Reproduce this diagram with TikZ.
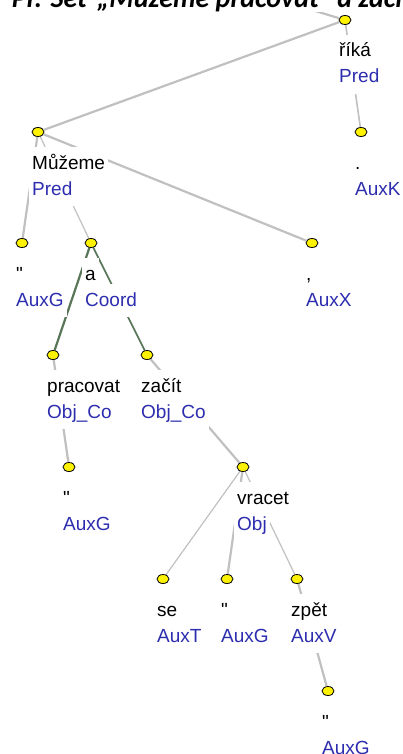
\documentclass[tikz,border=0pt]{standalone}
\usepackage{fontspec}
\newfontfamily\treefont[Ligatures=TeXOff]{Liberation Sans}
\newfontfamily\titlefont{Carlito}
\usetikzlibrary{shapes.geometric,backgrounds}
\definecolor{edgegray}{RGB}{192,192,192}
\definecolor{coordgreen}{RGB}{88,118,88}
\definecolor{funcblue}{RGB}{45,45,175}
\tikzset{
  treedot/.style={ellipse, draw=black, line width=0.8pt, fill=yellow,
    minimum width=12pt, minimum height=9pt, inner sep=0pt},
  wordlab/.style={anchor=base west, fill=white, inner sep=3pt,
    text height=19pt, text depth=8pt, font=\treefont\fontsize{19}{19}\selectfont},
  funclab/.style={wordlab, text=funcblue},
  dep/.style={draw=edgegray, line width=2.2pt},
  thindep/.style={draw=edgegray, line width=1.2pt},
  coorddep/.style={draw=coordgreen, line width=1.6pt},
}
\begin{document}
\begin{tikzpicture}[x=1pt, y=-1pt]
    \useasboundingbox (0,0) rectangle (403,754);
    \clip (0,0) rectangle (403,754);
    % slide title, cut off at the top
    \node[anchor=base west, inner sep=0pt, fill=white,
       font=\titlefont\bfseries\itshape\fontsize{28}{28}\selectfont]
       (title) at (97,8) {\llap{Př. Set\hspace{4pt} }„Můžeme pracovat“ a začít};
    \coordinate (up) at (279,0);
    % the dots of the tree
    \foreach \n/\x/\y in {rika/345/20, auxk/361/132, muzeme/38/132,
       qa/22/243, a/91/243, comma/312/243, pracovat/53/355, zacit/147/355,
       qb/69/467, vracet/243/467, se/163/579, qc/227/579, zpet/297/579,
       qd/328/691}
       \node[treedot] (\n) at (\x,\y) {};
    % word form and function under each dot
    \foreach \n/\w/\f in {rika/říká/Pred, auxk/./AuxK, muzeme/Můžeme/Pred,
       qa/"/AuxG, a/a/Coord, comma/{,}/AuxX, pracovat/pracovat/Obj\_Co,
       zacit/začít/Obj\_Co, qb/"/AuxG, vracet/vracet/Obj, se/se/AuxT,
       qc/"/AuxG, zpet/zpět/AuxV, qd/"/AuxG} {
       \node[wordlab] (\n-w) at ([xshift=-9pt, yshift=-37pt]\n) {\w};
       \node[funclab] (\n-f) at ([xshift=-9pt, yshift=-63pt]\n) {\f};
    }
    \begin{scope}[on background layer]
    \draw[dep] (rika) -- (up);
    \draw[dep] (rika) -- (muzeme);
    \draw[thindep, line width=1.6pt] (rika) -- (auxk);
    \draw[dep] (muzeme) -- (qa);
    \draw[thindep] (muzeme) -- (a);
    \draw[dep] (muzeme) -- (comma);
    % the coordinated members
    \draw[coorddep, line width=2.2pt] (a) -- (pracovat);
    \draw[coorddep] (a) -- (zacit);
    \draw[dep] (pracovat) -- (qb);
    \draw[dep] (zacit) -- (vracet);
    \draw[thindep] (vracet) -- (se);
    \draw[dep] (vracet) -- (qc);
    \draw[thindep] (vracet) -- (zpet);
    \draw[dep] (zpet) -- (qd);
    \end{scope}
\end{tikzpicture}
\end{document}
